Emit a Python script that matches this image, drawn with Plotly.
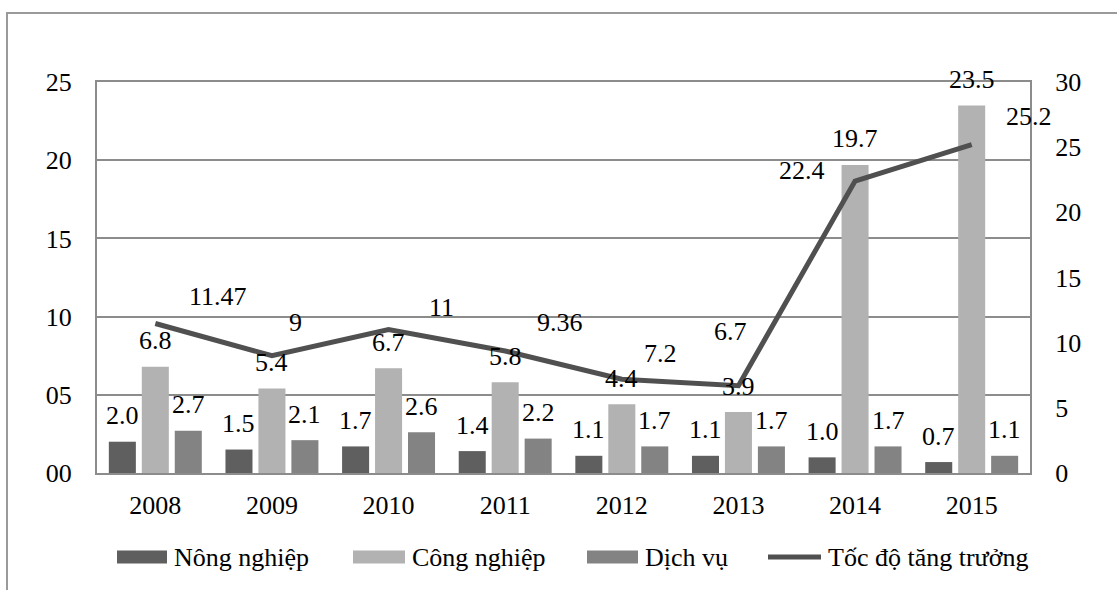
import plotly.graph_objects as go

# ---- data -------------------------------------------------------------
years = ["2008", "2009", "2010", "2011", "2012", "2013", "2014", "2015"]
nong_nghiep = [2.0, 1.5, 1.7, 1.4, 1.1, 1.1, 1.0, 0.7]
cong_nghiep = [6.8, 5.4, 6.7, 5.8, 4.4, 3.9, 19.7, 23.5]
dich_vu = [2.7, 2.1, 2.6, 2.2, 1.7, 1.7, 1.7, 1.1]
toc_do = [11.47, 9, 11, 9.36, 7.2, 6.7, 22.4, 25.2]
toc_do_text = ["11.47", "9", "11", "9.36", "7.2", "6.7", "22.4", "25.2"]

names = ["Nông nghiệp", "Công nghiệp", "Dịch vụ", "Tốc độ tăng trưởng"]
colors = ["#5f5f5f", "#b2b2b2", "#838383", "#505050"]

# ---- geometry ---------------------------------------------------------
W, H = 1117, 590
ML, MR, MT, MB = 97, 87, 82, 117
PW, PH = W - ML - MR, H - MT - MB
FONT = "'Times New Roman', 'Liberation Serif', serif"
FS = 26
GRID = "#8c8c8c"


def px_x(p):
    return (p - ML) / PW


def px_y(p):
    return (H - MB - p) / PH


fig = go.Figure()
for vals, name, col in zip([nong_nghiep, cong_nghiep, dich_vu], names[:3], colors[:3]):
    fig.add_trace(go.Bar(x=years, y=vals, name=name, marker_color=col,
                         marker_line_width=0, showlegend=False))

fig.add_trace(go.Scatter(x=years, y=toc_do, name=names[3], mode="lines",
                         line=dict(color=colors[3], width=5), yaxis="y2",
                         showlegend=False))

annotations = []
# bar value labels, above each bar (x given as category index)
slot_px = PW / len(years) * (1 - 0.152) / 3
for k, vals in enumerate([nong_nghiep, cong_nghiep, dich_vu]):
    for i, v in enumerate(vals):
        annotations.append(dict(x=i, y=v, xref="x", yref="y", text=f"{v:.1f}",
                                showarrow=False, xshift=(k - 1) * slot_px,
                                yshift=26, yanchor="middle",
                                font=dict(family=FONT, size=FS, color="black")))

# growth-rate labels, offset from each point of the line
line_shift = [(63, 27), (24, 33), (53, 22), (55, 29), (39, 26), (-8, 54), (-53, 11), (57, 28)]
for i, (v, t, (dx, dy)) in enumerate(zip(toc_do, toc_do_text, line_shift)):
    annotations.append(dict(x=i, y=v, xref="x", yref="y2", text=t,
                            showarrow=False, xshift=dx, yshift=dy,
                            yanchor="middle",
                            font=dict(family=FONT, size=FS, color="black")))

# legend drawn below the plot
shapes = []
leg_y = 557
leg_items = [(117, 167, 172), (353, 405, 410), (587, 638, 643)]
for (x0, x1, tx), name, col in zip(leg_items, names[:3], colors[:3]):
    shapes.append(dict(type="rect", xref="paper", yref="paper",
                       x0=px_x(x0), x1=px_x(x1), y0=px_y(leg_y + 6.5), y1=px_y(leg_y - 6.5),
                       fillcolor=col, line_width=0))
    annotations.append(dict(x=px_x(tx), y=px_y(leg_y), xref="paper", yref="paper",
                            text=name, showarrow=False, xanchor="left", yanchor="middle",
                            font=dict(family=FONT, size=FS, color="black")))
shapes.append(dict(type="line", xref="paper", yref="paper",
                   x0=px_x(768), x1=px_x(821), y0=px_y(leg_y), y1=px_y(leg_y),
                   line=dict(color=colors[3], width=5)))
annotations.append(dict(x=px_x(826), y=px_y(leg_y), xref="paper", yref="paper",
                        text=names[3], showarrow=False, xanchor="left", yanchor="middle",
                        font=dict(family=FONT, size=FS, color="black")))

# outer chart frame
shapes.append(dict(type="rect", xref="paper", yref="paper", layer="below",
                   x0=px_x(7), x1=px_x(W + 20), y0=px_y(H + 20), y1=px_y(13),
                   line=dict(color="#9a9a9a", width=2), fillcolor="rgba(0,0,0,0)"))

fig.update_layout(
    width=W, height=H,
    margin=dict(l=ML, r=MR, t=MT, b=MB),
    paper_bgcolor="white", plot_bgcolor="white",
    barmode="group", bargap=0.152, bargroupgap=0.18,
    font=dict(family=FONT, size=FS, color="black"),
    xaxis=dict(type="category", categoryorder="array", categoryarray=years,
               range=[-0.5, len(years) - 0.5], autorange=False,
               showline=True, linecolor=GRID, linewidth=2,
               mirror=True, showgrid=False, ticks="", ticklabelstandoff=8,
               tickfont=dict(family=FONT, size=FS, color="black")),
    yaxis=dict(range=[0, 25], dtick=5, tickformat="02d", showgrid=True,
               gridcolor=GRID, gridwidth=1.5, showline=True, linecolor=GRID,
               linewidth=2, zeroline=False, ticks="", ticklabelstandoff=18,
               tickfont=dict(family=FONT, size=FS, color="black")),
    yaxis2=dict(range=[0, 30], dtick=5, overlaying="y", side="right",
                showgrid=False, showline=True, linecolor=GRID, linewidth=2,
                zeroline=False, ticks="", ticklabelstandoff=18,
                tickfont=dict(family=FONT, size=FS, color="black")),
    annotations=annotations,
    shapes=shapes,
    showlegend=False,
)

fig.write_html("out.html")
